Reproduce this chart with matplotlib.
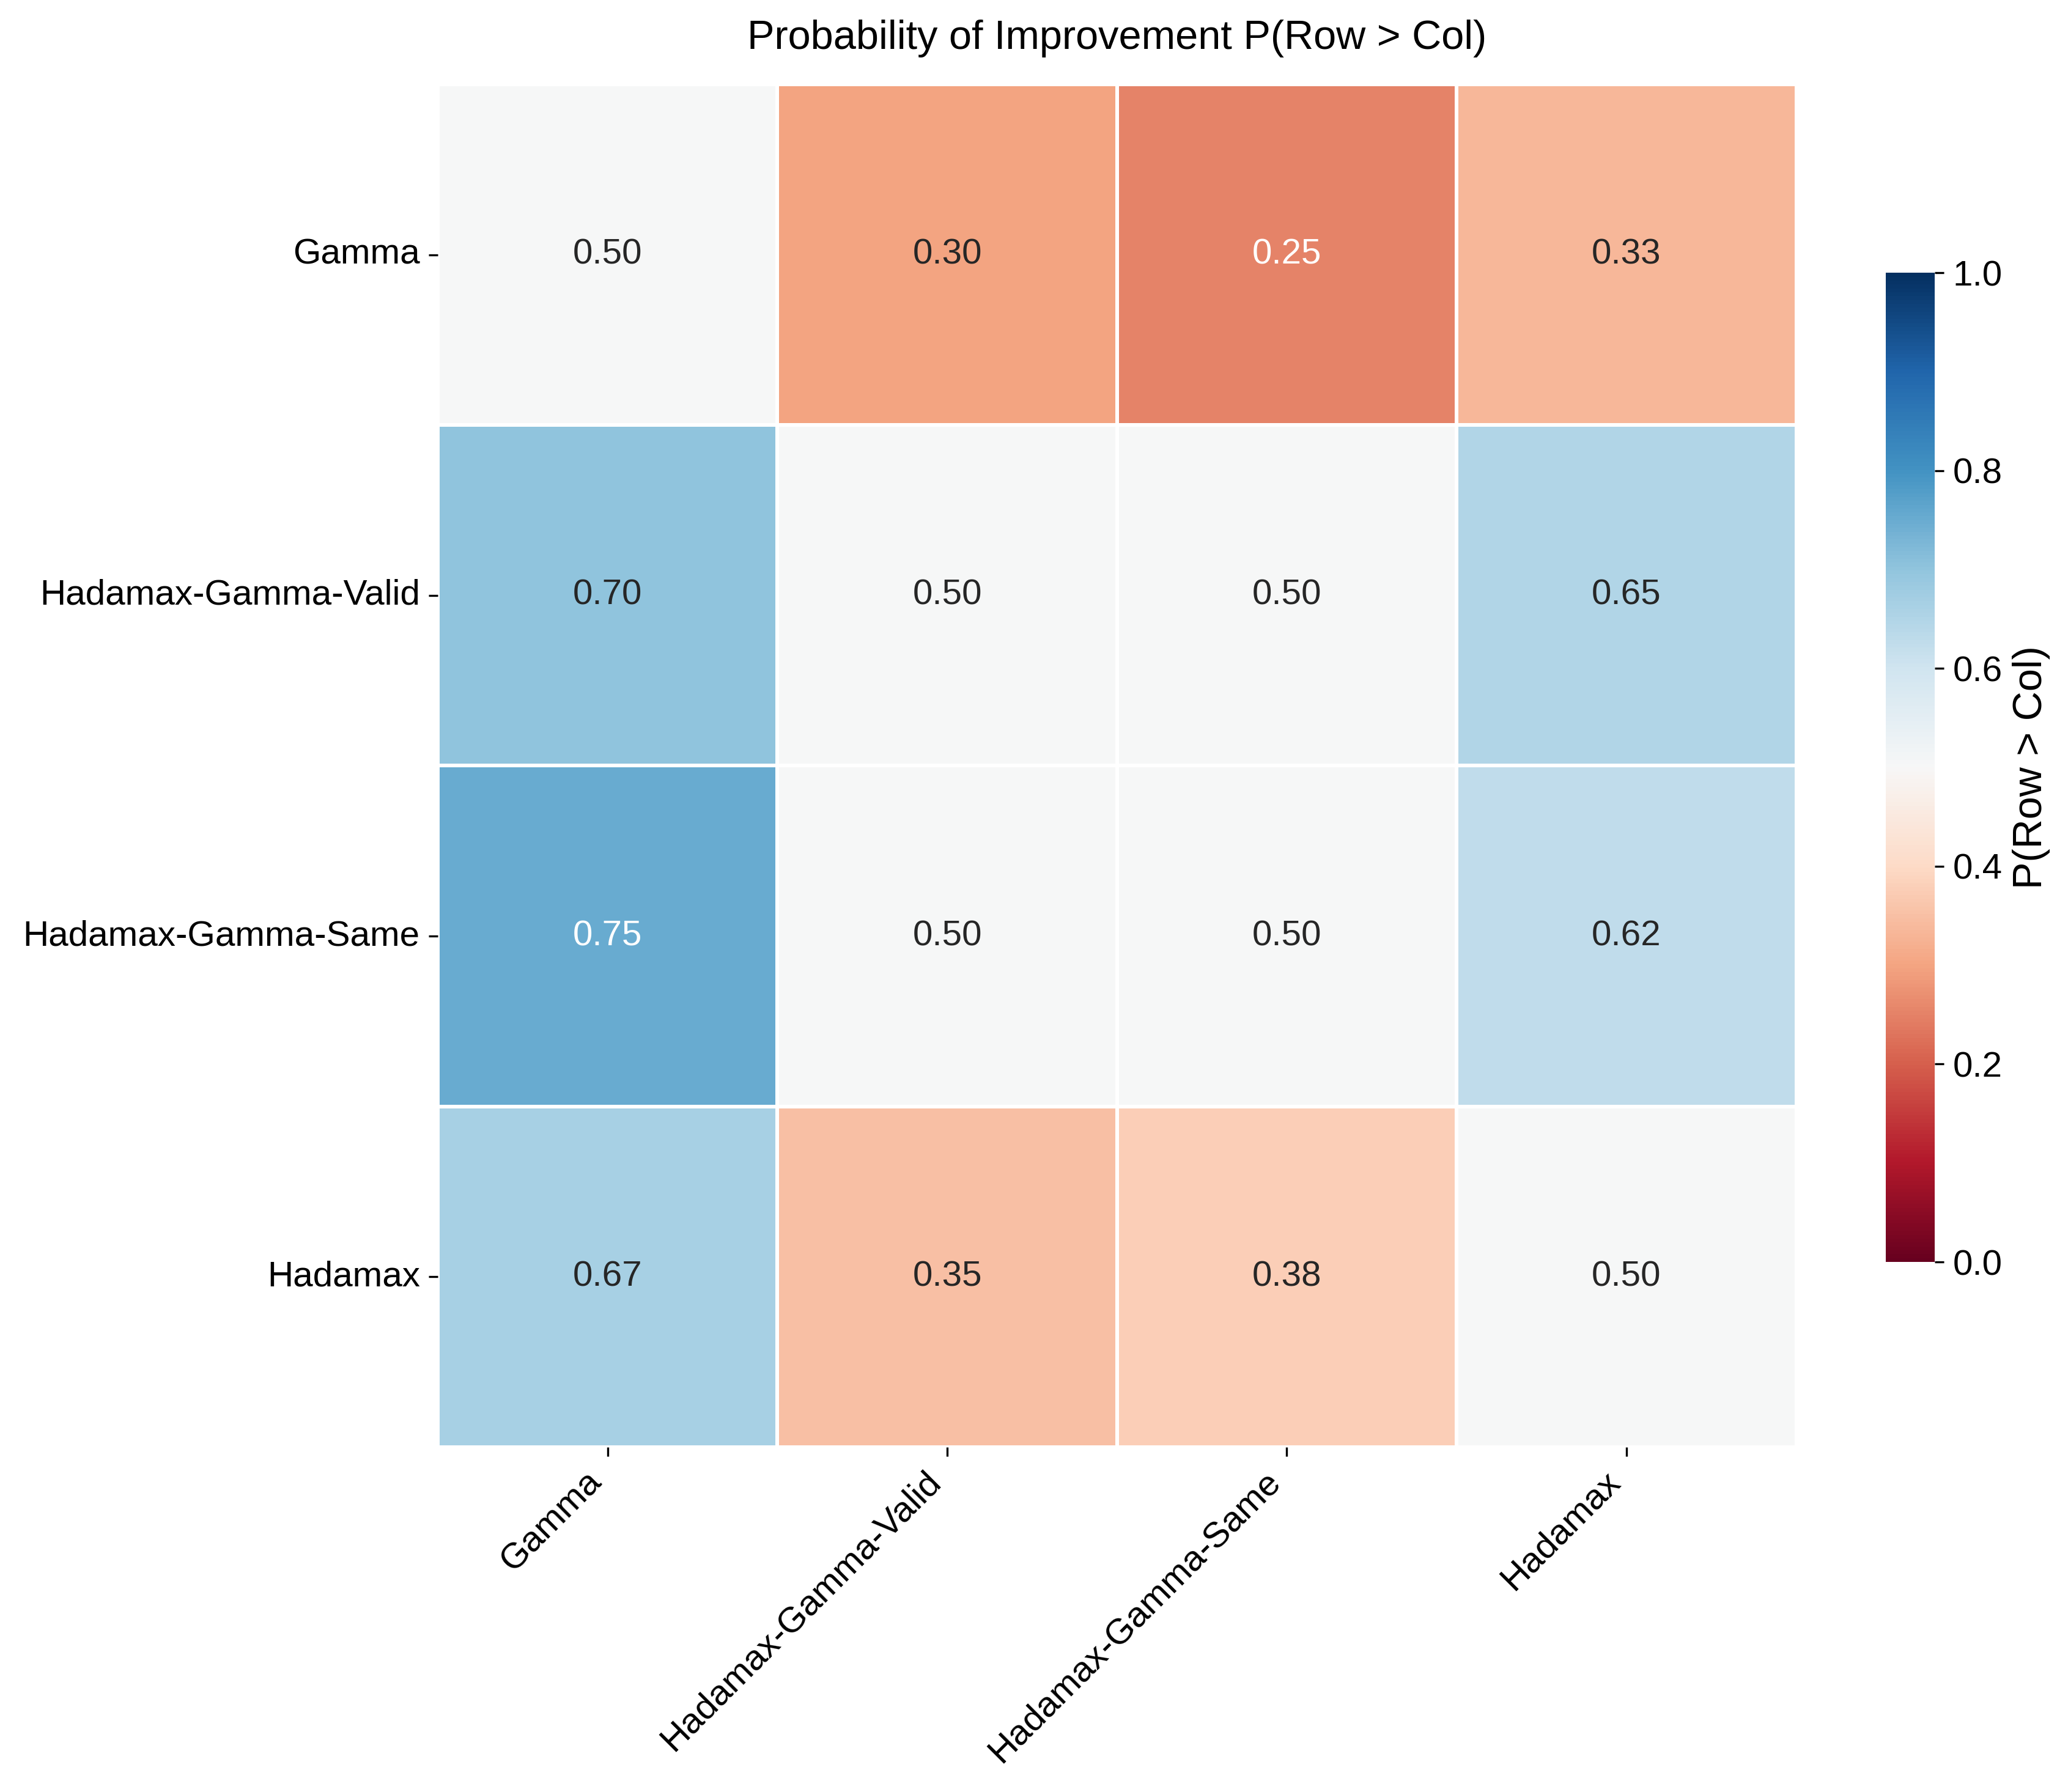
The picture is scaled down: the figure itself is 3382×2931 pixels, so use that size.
import numpy as np
import matplotlib
matplotlib.use("Agg")
import matplotlib.pyplot as plt
import seaborn as sns

# methods compared (rows beat columns)
methods = ["Gamma", "Hadamax-Gamma-Valid", "Hadamax-Gamma-Same", "Hadamax"]

# P(row > col)
p_gamma = [0.50, 0.30, 0.25, 1 / 3]
p_hgv = [0.70, 0.50, 0.50, 0.65]
p_hgs = [0.75, 0.50, 0.50, 0.625]
p_hadamax = [2 / 3, 0.35, 0.375, 0.50]

probs = np.array([p_gamma, p_hgv, p_hgs, p_hadamax])

plt.rcParams['font.family'] = ['Liberation Sans', 'DejaVu Sans']
plt.rcParams['font.size'] = 14

fig = plt.figure(figsize=(3382 / 300, 2931 / 300), dpi=300)
ax = fig.add_axes([0.2117, 0.1925, 0.6569, 0.7604])
cax = fig.add_axes([0.9120, 0.2958, 0.0236, 0.5519])

sns.heatmap(probs, ax=ax, cbar_ax=cax, cmap="RdBu", vmin=0, vmax=1, center=0.5,
            annot=True, fmt=".2f", annot_kws={"size": 14},
            linewidths=1, linecolor="white",
            xticklabels=methods, yticklabels=methods,
            cbar_kws={"label": "P(Row > Col)"})

ax.set_title("Probability of Improvement P(Row > Col)", fontsize=16, pad=14)
ax.set_xticklabels(methods, rotation=45, ha="right", fontsize=14)
ax.set_yticklabels(methods, rotation=0, fontsize=14)

cax.tick_params(labelsize=14)
cax.set_yticks([0.0, 0.2, 0.4, 0.6, 0.8, 1.0])
cax.yaxis.label.set_size(16)

fig.savefig("out.png", dpi=300)
